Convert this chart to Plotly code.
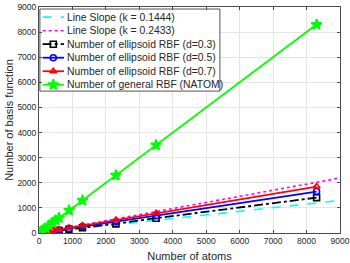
import plotly.graph_objects as go

# ---------------- data ----------------
atoms = [24, 60, 120, 200, 300, 400, 500, 600, 900, 1300, 2300, 3500, 8300]
rbf_d03 = [5, 10, 20, 34, 50, 66, 82, 98, 148, 210, 365, 590, 1410]
rbf_d05 = [6, 12, 25, 42, 62, 82, 102, 120, 180, 258, 445, 690, 1650]
rbf_d07 = [7, 15, 30, 50, 72, 95, 118, 140, 210, 300, 520, 785, 1850]
rbf_general = atoms[:]  # NATOM

slope_x = [0, 9000]
slope_k1 = 0.1444
slope_k2 = 0.2433

x_ticks = [0, 1000, 2000, 3000, 4000, 5000, 6000, 7000, 8000, 9000]
y_ticks = [0, 1000, 2000, 3000, 4000, 5000, 6000, 7000, 8000, 9000]

legend_labels = [
    "Line Slope (k = 0.1444)",
    "Line Slope (k = 0.2433)",
    "Number of ellipsoid RBF (d=0.3)",
    "Number of ellipsoid RBF (d=0.5)",
    "Number of ellipsoid RBF (d=0.7)",
    "Number of general RBF (NATOM)",
]

# ---------------- styles ----------------
FONT = "Liberation Sans, Arial, Helvetica, sans-serif"
TXT = "#262626"
styles = [
    dict(color="#00FFFF", dash="dash", symbol=None, width=1.6),
    dict(color="#FF00FF", dash="dot", symbol=None, width=1.6),
    dict(color="#000000", dash="dashdot", symbol="square-open", width=1.8),
    dict(color="#0000FF", dash="solid", symbol="circle-open", width=1.8),
    dict(color="#FF0000", dash="solid", symbol="triangle-up-open", width=1.8),
    dict(color="#00FF00", dash="solid", symbol="star", width=1.8),
]

def marker_size(sym):
    return 8 if sym == "star" else 6

fig = go.Figure()

series = [
    (slope_x, [slope_k1 * v for v in slope_x]),
    (slope_x, [slope_k2 * v for v in slope_x]),
    (atoms, rbf_d03),
    (atoms, rbf_d05),
    (atoms, rbf_d07),
    (atoms, rbf_general),
]

for (xs, ys), st, name in zip(series, styles, legend_labels):
    if st["symbol"] is None:
        fig.add_trace(go.Scatter(x=xs, y=ys, mode="lines", name=name,
                                 line=dict(color=st["color"], dash=st["dash"], width=st["width"]),
                                 showlegend=False))
    else:
        fig.add_trace(go.Scatter(x=xs, y=ys, mode="lines+markers", name=name,
                                 line=dict(color=st["color"], dash=st["dash"], width=st["width"]),
                                 marker=dict(symbol=st["symbol"], size=marker_size(st["symbol"]),
                                             color=st["color"],
                                             line=dict(color=st["color"], width=1.6)),
                                 showlegend=False))

# ---------------- custom legend (overlay axes in fraction units) ----------------
leg_x0, leg_x1 = 0.003, 0.601
leg_top, leg_bot = 0.991, 0.628
sample_x0, sample_x1 = 0.012, 0.083
text_x = 0.086
first_y, step_y = 0.955, 0.0598

# legend box (white fill with dark border)
fig.add_trace(go.Scatter(x=[leg_x0, leg_x1, leg_x1, leg_x0, leg_x0],
                         y=[leg_bot, leg_bot, leg_top, leg_top, leg_bot],
                         mode="lines", fill="toself", fillcolor="white",
                         line=dict(color="#262626", width=0.8),
                         xaxis="x2", yaxis="y2", showlegend=False, hoverinfo="skip"))

for i, (st, name) in enumerate(zip(styles, legend_labels)):
    yy = first_y - i * step_y
    fig.add_trace(go.Scatter(x=[sample_x0, sample_x1], y=[yy, yy], mode="lines",
                             xaxis="x2", yaxis="y2", showlegend=False, hoverinfo="skip",
                             line=dict(color=st["color"], dash=st["dash"], width=st["width"])))
    if st["symbol"] is not None:
        fig.add_trace(go.Scatter(x=[(sample_x0 + sample_x1) / 2], y=[yy], mode="markers",
                                 xaxis="x2", yaxis="y2", showlegend=False, hoverinfo="skip",
                                 marker=dict(symbol=st["symbol"], size=marker_size(st["symbol"]),
                                             color=st["color"],
                                             line=dict(color=st["color"], width=1.6))))
    fig.add_annotation(x=text_x, y=yy, xref="x2", yref="y2", text=name,
                       showarrow=False, xanchor="left", yanchor="middle",
                       font=dict(family=FONT, size=10.4, color=TXT))

axis_common = dict(
    showgrid=True, gridcolor="#e5e5e5", gridwidth=1,
    showline=True, linecolor="#4d4d4d", linewidth=1, mirror="ticks",
    ticks="inside", ticklen=3, tickcolor="#4d4d4d", tickwidth=1,
    zeroline=False, tickfont=dict(family=FONT, size=8.5, color=TXT),
    automargin=False,
)

fig.update_layout(
    width=350, height=263,
    margin=dict(l=39, r=10, t=7, b=30),
    paper_bgcolor="white", plot_bgcolor="white",
    font=dict(family=FONT, color=TXT),
    showlegend=False,
    hovermode=False,
    xaxis=dict(range=[0, 9000], tickvals=x_ticks,
               title=dict(text="Number of atoms", font=dict(family=FONT, size=11, color=TXT), standoff=7),
               **axis_common),
    yaxis=dict(range=[0, 9000], tickvals=y_ticks,
               title=dict(text="Number of basis function", font=dict(family=FONT, size=11, color=TXT), standoff=1),
               **axis_common),
    xaxis2=dict(range=[0, 1], overlaying="x", visible=False, fixedrange=True),
    yaxis2=dict(range=[0, 1], overlaying="y", visible=False, fixedrange=True),
)

fig.write_html("out.html", config={"displayModeBar": False, "staticPlot": True},
               post_script="document.body.style.margin='0';document.body.style.overflow='hidden';")
